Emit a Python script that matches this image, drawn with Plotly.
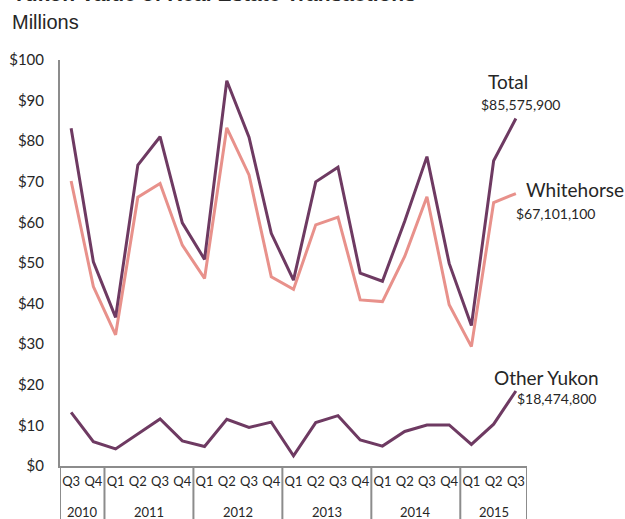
import plotly.graph_objects as go

years = ["2010", "2010",
         "2011", "2011", "2011", "2011",
         "2012", "2012", "2012", "2012",
         "2013", "2013", "2013", "2013",
         "2014", "2014", "2014", "2014",
         "2015", "2015", "2015"]
quarters = ["Q3", "Q4",
            "Q1", "Q2", "Q3", "Q4",
            "Q1", "Q2", "Q3", "Q4",
            "Q1", "Q2", "Q3", "Q4",
            "Q1", "Q2", "Q3", "Q4",
            "Q1", "Q2", "Q3"]

total = [83.2, 50.3, 36.6, 74.1, 81.1, 59.9, 50.9, 94.9, 81.0, 57.3, 45.8,
         70.0, 73.6, 47.5, 45.5, 60.3, 76.2, 49.9, 34.6, 75.2, 85.5759]
whitehorse = [70.2, 44.2, 32.3, 66.2, 69.6, 54.4, 46.2, 83.3, 71.7, 46.6, 43.5,
              59.4, 61.3, 40.9, 40.5, 51.6, 66.3, 39.7, 29.4, 64.9, 67.1011]
other_yukon = [13.2, 6.0, 4.2, 7.9, 11.6, 6.2, 4.8, 11.5, 9.5, 10.8, 2.5,
               10.7, 12.4, 6.4, 4.9, 8.5, 10.1, 10.1, 5.3, 10.3, 18.4748]

series_names = ["Total", "Whitehorse", "Other Yukon"]
series_labels = ["$85,575,900", "$67,101,100", "$18,474,800"]
title_text = "Yukon Value of Real Estate Transactions"

DARK = "#6E3A62"
PINK = "#E8918B"
AXIS = "#8C8C8C"
TXT = "#262626"
FONT = "Lato, Calibri, sans-serif"

idx = list(range(len(quarters)))

fig = go.Figure()
fig.add_trace(go.Scatter(x=idx, y=whitehorse, mode="lines", name="Whitehorse",
                         line=dict(color=PINK, width=3)))
fig.add_trace(go.Scatter(x=idx, y=total, mode="lines", name="Total",
                         line=dict(color=DARK, width=3)))
fig.add_trace(go.Scatter(x=idx, y=other_yukon, mode="lines", name="Other Yukon",
                         line=dict(color=DARK, width=3)))

# end-of-line labels, offsets in pixels relative to the last point
last_i = idx[-1]
last_vals = {"Total": total[-1], "Whitehorse": whitehorse[-1], "Other Yukon": other_yukon[-1]}
offsets = {
    "Total": ((-8, 37), (5, 14)),
    "Whitehorse": ((59, 4), (40, -20)),
    "Other Yukon": ((31, 13), (41, -8)),
}
for name, lab in zip(series_names, series_labels):
    (nx, ny), (vx, vy) = offsets[name]
    fig.add_annotation(x=last_i, y=last_vals[name], xref="x", yref="y",
                       text=name, showarrow=False, xshift=nx, yshift=ny,
                       font=dict(family=FONT, size=19, color=TXT))
    fig.add_annotation(x=last_i, y=last_vals[name], xref="x", yref="y",
                       text=lab, showarrow=False, xshift=vx, yshift=vy,
                       font=dict(family=FONT, size=14, color=TXT))

# year group labels and dividers
PLOT_H = 406
groups = []
for i, yr in enumerate(years):
    if not groups or groups[-1][0] != yr:
        groups.append([yr, i, i])
    else:
        groups[-1][2] = i
for yr, a, b in groups:
    fig.add_annotation(x=(a + b) / 2, y=0, xref="x", yref="paper", text=yr,
                       showarrow=False, yanchor="middle", yshift=-46,
                       font=dict(family=FONT, size=13, color=TXT))
bounds = [g[1] - 0.5 for g in groups] + [groups[-1][2] + 0.5]
for bx in bounds:
    fig.add_shape(type="line", xref="x", yref="paper", x0=bx, x1=bx,
                  y0=0, y1=-60 / PLOT_H, line=dict(color=AXIS, width=2))

fig.add_annotation(x=-50 / 467, y=1 + 38 / PLOT_H, xref="paper", yref="paper",
                   text="Millions", showarrow=False, xanchor="left", yanchor="middle",
                   font=dict(family="Liberation Sans, Arial, sans-serif", size=20, color=TXT))
fig.add_annotation(x=-50 / 467, y=1 + 53.5 / PLOT_H, xref="paper", yref="paper",
                   text="<b>" + title_text + "</b>", showarrow=False,
                   xanchor="left", yanchor="bottom",
                   font=dict(family="Liberation Sans, Arial, sans-serif", size=21, color=TXT))

fig.update_layout(
    width=625, height=519,
    margin=dict(l=60, r=98, t=60, b=53),
    paper_bgcolor="white", plot_bgcolor="white",
    showlegend=False,
    font=dict(family=FONT, size=14, color=TXT),
)
fig.update_xaxes(
    range=[-0.5, len(idx) - 0.5],
    tickmode="array", tickvals=idx, ticktext=quarters, tickangle=0,
    showline=True, linecolor=AXIS, linewidth=2,
    showgrid=False, zeroline=False, ticks="",
    ticklabelstandoff=2,
    tickfont=dict(family=FONT, size=13, color=TXT),
    automargin=False,
)
fig.update_yaxes(
    range=[0, 100], dtick=10, tickprefix="$",
    showline=True, linecolor=AXIS, linewidth=2,
    showgrid=False, zeroline=False, ticks="",
    ticklabelstandoff=11,
    tickfont=dict(family=FONT, size=15, color=TXT),
    automargin=False,
)

fig.write_html("out.html")
